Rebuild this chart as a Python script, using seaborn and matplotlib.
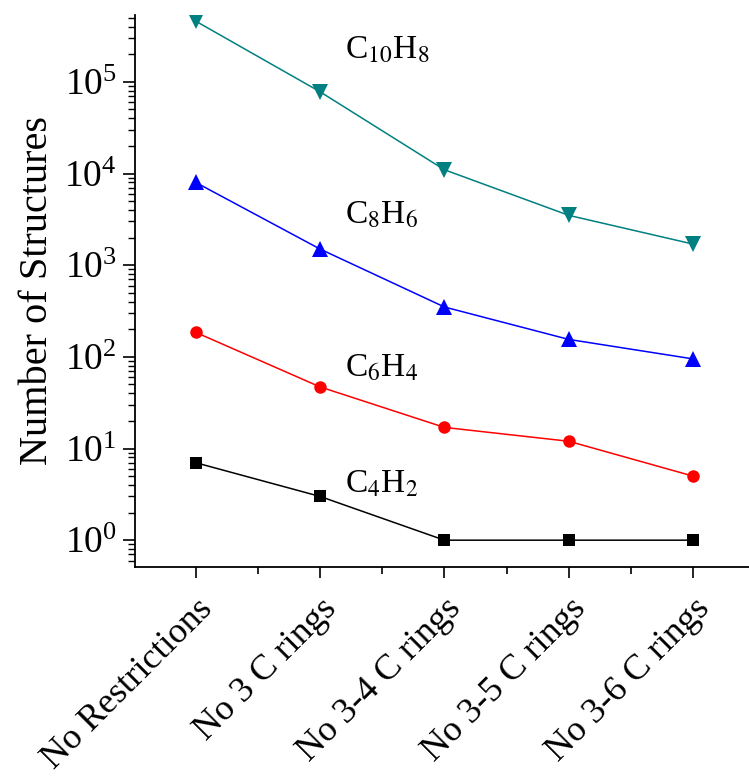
import numpy as np
import pandas as pd
import matplotlib
matplotlib.use('Agg')
import matplotlib.pyplot as plt
from matplotlib.ticker import FixedLocator, LogLocator, NullFormatter
import seaborn as sns

categories = ['No Restrictions', 'No 3 C rings', 'No 3-4 C rings',
              'No 3-5 C rings', 'No 3-6 C rings']
c10h8 = [4.6e5, 7.8e4, 1.1e4, 3.5e3, 1.7e3]
c8h6 = [8.0e3, 1.5e3, 350, 155, 95]
c6h4 = [185, 47, 17, 12, 5]
c4h2 = [7, 3, 1, 1, 1]
series_names = ['C10H8', 'C8H6', 'C6H4', 'C4H2']
series_labels = [r'C$_{10}$H$_8$', r'C$_8$H$_6$', r'C$_6$H$_4$', r'C$_4$H$_2$']

sns.set_style('ticks')
plt.rcParams['font.family'] = ['Liberation Serif', 'DejaVu Serif']
plt.rcParams['mathtext.fontset'] = 'stix'
for key in ['text.color', 'axes.labelcolor', 'xtick.color', 'ytick.color', 'axes.edgecolor']:
    plt.rcParams[key] = 'black'

rows = []
for name, vals in zip(series_names, [c10h8, c8h6, c6h4, c4h2]):
    for i, v in enumerate(vals):
        rows.append({'pos': i, 'value': v, 'series': name})
df = pd.DataFrame(rows)

palette = {'C10H8': '#008080', 'C8H6': '#0000FF', 'C6H4': '#FF0000', 'C4H2': '#000000'}
markers = {'C10H8': 'v', 'C8H6': '^', 'C6H4': 'o', 'C4H2': 's'}
sizes = {'C10H8': 11, 'C8H6': 11, 'C6H4': 9, 'C4H2': 8}

fig = plt.figure(figsize=(7.49, 7.77), dpi=100)
ax = fig.add_axes([0.180, 0.270, 0.82, 0.711])

for name in series_names:
    sub = df[df['series'] == name]
    sns.lineplot(data=sub, x='pos', y='value', color=palette[name],
                 marker=markers[name], markersize=sizes[name],
                 markeredgewidth=0, linewidth=1.1, ax=ax, legend=False)

ax.set_yscale('log')
ax.set_ylim(0.507, 5.4e5)
ax.set_xlim(-0.49, 4.45)

ax.xaxis.set_major_locator(FixedLocator(range(len(categories))))
ax.xaxis.set_minor_locator(FixedLocator(np.arange(-0.5, len(categories), 1.0)))
ax.set_xticklabels(categories, rotation=45, ha='right', rotation_mode='anchor',
                   fontsize=26)
ax.yaxis.set_major_locator(LogLocator(base=10, numticks=12))
ax.yaxis.set_minor_locator(LogLocator(base=10, subs=np.arange(2, 10), numticks=12))
ax.yaxis.set_minor_formatter(NullFormatter())
ax.tick_params(axis='y', which='major', labelsize=27, length=9, width=1.2, pad=4)
ax.tick_params(axis='y', which='minor', length=5, width=1.0)
ax.tick_params(axis='x', which='major', length=8, width=1.2, pad=10)
ax.tick_params(axis='x', which='minor', length=5, width=1.2)

ax.set_xlabel('')
ax.set_ylabel('Number of Structures', fontsize=29, labelpad=6)

sns.despine(ax=ax)
for s in ['left', 'bottom']:
    ax.spines[s].set_linewidth(1.3)

label_y = [2.2e5, 3.5e3, 76, 4.1]
for lab, ly in zip(series_labels, label_y):
    ax.text(1.2, ly, lab, fontsize=24, ha='left', va='center')

fig.savefig('out.png', dpi=100)
